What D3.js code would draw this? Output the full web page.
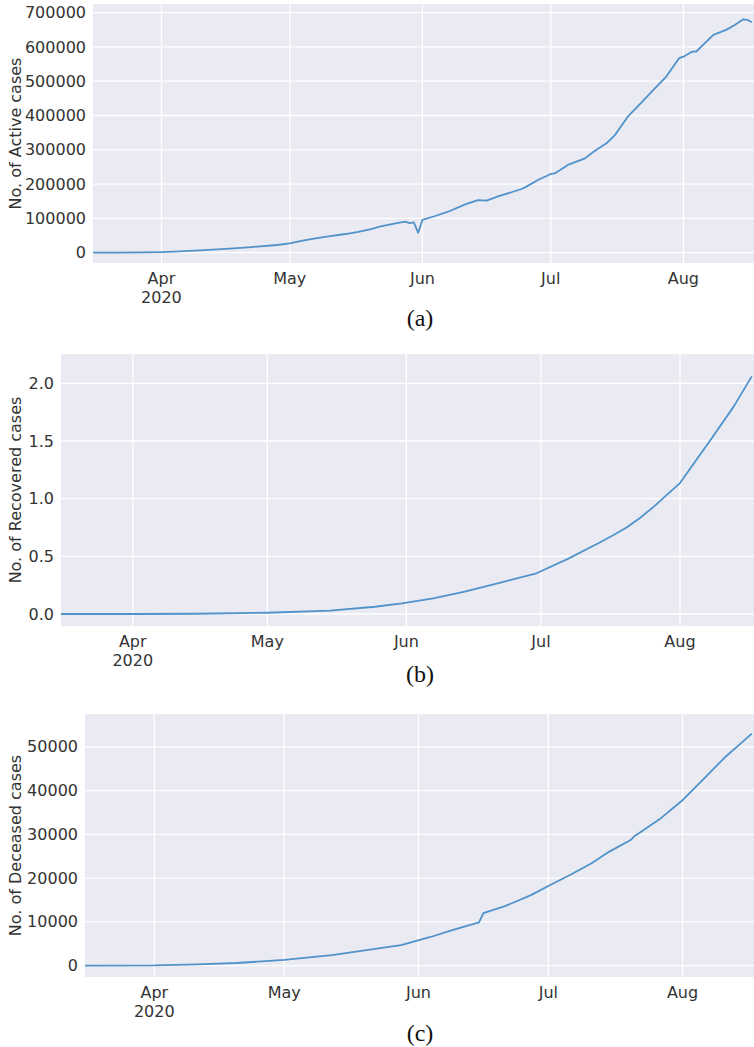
<!DOCTYPE html>
<html>
<head>
<meta charset="utf-8">
<script src="https://cdn.jsdelivr.net/npm/d3@7"></script>
<style>
  body { margin: 0; background: #ffffff; }
  svg { display: block; }
</style>
</head>
<body>
<svg id="chart" width="754" height="1047"></svg>
<script>
// ---- Active cases ----
const activeDates = ["2020-03-16","2020-03-22","2020-03-28","2020-04-01","2020-04-04","2020-04-10","2020-04-17","2020-04-22","2020-04-28","2020-05-01","2020-05-04","2020-05-07","2020-05-10","2020-05-14","2020-05-17","2020-05-20","2020-05-22","2020-05-26","2020-05-28","2020-05-29","2020-05-30","2020-05-31","2020-06-01","2020-06-04","2020-06-07","2020-06-11","2020-06-14","2020-06-16","2020-06-19","2020-06-22","2020-06-24","2020-06-25","2020-06-28","2020-07-01","2020-07-02","2020-07-05","2020-07-09","2020-07-11","2020-07-14","2020-07-16","2020-07-19","2020-07-22","2020-07-25","2020-07-28","2020-07-31","2020-08-01","2020-08-03","2020-08-04","2020-08-08","2020-08-11","2020-08-13","2020-08-15","2020-08-16","2020-08-17"];
const activeCases = [0,300,800,1800,3000,7000,12000,16500,22500,27500,35000,42000,47500,54500,61000,69000,76000,86000,90500,86000,88500,58000,95500,107000,119500,141000,153500,152000,165500,177000,185000,190500,212000,229500,231500,256000,275000,294500,319000,343000,396500,435500,474500,513500,567000,571500,586000,586500,635000,649500,664000,680500,678500,672000];

// ---- Recovered cases ----
const recoveredDates = ["2020-03-16","2020-04-01","2020-04-15","2020-05-01","2020-05-15","2020-05-25","2020-05-31","2020-06-07","2020-06-14","2020-06-22","2020-06-30","2020-07-07","2020-07-14","2020-07-17","2020-07-20","2020-07-23","2020-07-26","2020-07-29","2020-08-01","2020-08-04","2020-08-08","2020-08-13","2020-08-17"];
const recoveredCases = [0,200,2000,11000,29000,63000,93000,136000,193000,272000,353000,478000,618000,680000,748000,830000,925000,1030000,1135000,1300000,1520000,1800000,2060000];

// ---- Deceased cases ----
const deceasedDates = ["2020-03-16","2020-04-01","2020-04-11","2020-04-20","2020-05-01","2020-05-12","2020-05-20","2020-05-28","2020-06-04","2020-06-09","2020-06-15","2020-06-16","2020-06-21","2020-06-27","2020-07-01","2020-07-06","2020-07-11","2020-07-15","2020-07-20","2020-07-21","2020-07-22","2020-07-27","2020-08-01","2020-08-06","2020-08-11","2020-08-14","2020-08-17"];
const deceasedCases = [10,40,300,600,1300,2400,3550,4700,6600,8150,9900,12000,13600,16100,18200,20700,23400,26000,28700,29700,30300,33700,37800,42800,47800,50400,53000];

// ---- Axis ticks ----
const monthTicks = ["2020-04-01","2020-05-01","2020-06-01","2020-07-01","2020-08-01"];
const activeTicks = [0,100000,200000,300000,400000,500000,600000,700000];
const recoveredTicks = [0,500000,1000000,1500000,2000000];
const deceasedTicks = [0,10000,20000,30000,40000,50000];

const yLabels = ["No. of Active cases","No. of Recovered cases","No. of Deceased cases"];
const captions = ["(a)","(b)","(c)"];

const parse = d3.timeParse("%Y-%m-%d");
const xStart = new Date(2020, 2, 16);
const xEnd = new Date(2020, 7, 17, 12);

const panels = [
  { dates: activeDates, values: activeCases, ticks: activeTicks, yDomain: [-30000, 725000],
    fmt: d => String(d), box: { left: 93, top: 4, bottom: 263 }, captionY: 326 },
  { dates: recoveredDates, values: recoveredCases, ticks: recoveredTicks, yDomain: [-104000, 2254000],
    fmt: d => (d / 1e6).toFixed(1), box: { left: 61, top: 354, bottom: 626 }, captionY: 682 },
  { dates: deceasedDates, values: deceasedCases, ticks: deceasedTicks, yDomain: [-2600, 57500],
    fmt: d => String(d), box: { left: 85, top: 714, bottom: 977 }, captionY: 1041 }
];

const svg = d3.select("#chart");
const W = 754;
const textColor = "#333333";
const font = "DejaVu Sans, sans-serif";

panels.forEach((p, i) => {
  const b = p.box;
  const x = d3.scaleTime().domain([xStart, xEnd]).range([b.left, W]);
  const y = d3.scaleLinear().domain(p.yDomain).range([b.bottom, b.top]);
  const g = svg.append("g");

  // plot background
  g.append("rect")
    .attr("x", b.left).attr("y", b.top)
    .attr("width", W - b.left).attr("height", b.bottom - b.top)
    .attr("fill", "#eaeaf2");

  const clipId = "clip" + i;
  svg.append("defs").append("clipPath").attr("id", clipId)
    .append("rect")
    .attr("x", b.left).attr("y", b.top)
    .attr("width", W - b.left).attr("height", b.bottom - b.top);

  const months = monthTicks.map(parse);

  // vertical grid + month labels
  const xAxis = d3.axisBottom(x).tickValues(months).tickSize(0).tickFormat("");
  const xg = g.append("g").attr("transform", `translate(0,${b.bottom})`).call(xAxis);
  xg.select(".domain").remove();
  g.append("g").selectAll("line").data(months).join("line")
    .attr("x1", d => x(d)).attr("x2", d => x(d))
    .attr("y1", b.top).attr("y2", b.bottom)
    .attr("stroke", "#ffffff").attr("stroke-width", 1.3);

  const mfmt = d3.timeFormat("%b");
  const lbl = g.append("g").selectAll("text").data(months).join("text")
    .attr("x", d => x(d)).attr("y", b.bottom + 21)
    .attr("text-anchor", "middle")
    .attr("font-family", font).attr("font-size", 16).attr("fill", textColor);
  lbl.append("tspan").attr("x", d => x(d)).text(d => mfmt(d));
  lbl.filter((d, k) => k === 0).append("tspan")
    .attr("x", d => x(d)).attr("dy", 18.5).text("2020");

  // horizontal grid + value labels
  const yAxis = d3.axisLeft(y).tickValues(p.ticks).tickSize(0).tickPadding(7).tickFormat(p.fmt);
  const yg = g.append("g").attr("transform", `translate(${b.left},0)`).call(yAxis);
  yg.select(".domain").remove();
  yg.selectAll("text")
    .attr("font-family", font).attr("font-size", 16).attr("fill", textColor);
  g.append("g").selectAll("line").data(p.ticks).join("line")
    .attr("x1", b.left).attr("x2", W)
    .attr("y1", d => y(d)).attr("y2", d => y(d))
    .attr("stroke", "#ffffff").attr("stroke-width", 1.3);

  // series line
  const pts = p.dates.map((d, k) => ({ date: parse(d), value: p.values[k] }));
  const line = d3.line().x(d => x(d.date)).y(d => y(d.value));
  g.append("path")
    .datum(pts)
    .attr("clip-path", `url(#${clipId})`)
    .attr("d", line)
    .attr("fill", "none")
    .attr("stroke", "#5092ca")
    .attr("stroke-width", 1.8)
    .attr("stroke-linejoin", "round");

  // y-axis title
  const cy = (b.top + b.bottom) / 2;
  g.append("text")
    .attr("transform", `translate(15,${cy}) rotate(-90)`)
    .attr("text-anchor", "middle")
    .attr("dominant-baseline", "central")
    .attr("font-family", font).attr("font-size", 16).attr("fill", textColor)
    .text(yLabels[i]);

  // panel caption
  svg.append("text")
    .attr("x", 420).attr("y", p.captionY)
    .attr("text-anchor", "middle")
    .attr("font-family", "Liberation Serif, Times New Roman, serif")
    .attr("font-size", 24).attr("fill", "#111111")
    .text(captions[i]);
});
</script>
</body>
</html>
